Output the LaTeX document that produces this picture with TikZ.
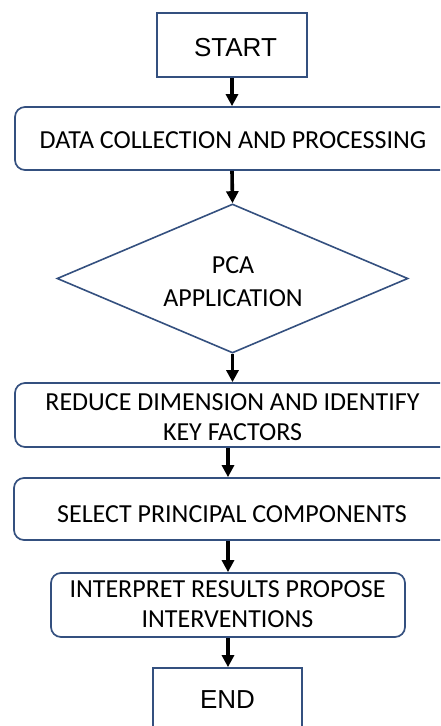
\documentclass[tikz,border=0pt]{standalone}
\usepackage{fontspec}
\setmainfont{Carlito}
\newfontfamily\arialf{Liberation Sans}
\usetikzlibrary{shapes.geometric,arrows.meta}
\definecolor{edgeblue}{HTML}{34507F}
\begin{document}
\begin{tikzpicture}[x=1pt,y=-1pt,
  box/.style={draw=edgeblue, line width=1.7pt, inner sep=0pt, fill=white},
  rbox/.style={box, rounded corners=10pt},
  dia/.style={draw=edgeblue, line width=1.6pt, diamond, inner sep=0pt, fill=white},
  lbl/.style={inner sep=0pt, font=\fontsize{26}{30}\selectfont, align=center},
  albl/.style={inner sep=0pt, font=\arialf\fontsize{26}{30}\selectfont},
  flow/.style={line width=3.6pt, -{Triangle[width=12pt,length=12pt]}}]
\useasboundingbox (0,0) rectangle (440,726);
\clip (0,0) rectangle (440,726);
% boxes
\node[box, minimum width=150pt, minimum height=64pt] (start) at (232,45) {};
\node[rbox, minimum width=450pt, minimum height=63pt] (data) at (240,138.5) {};
\node[dia, minimum width=351pt, minimum height=149pt] (pca) at (232.5,278.5) {};
\node[rbox, minimum width=450pt, minimum height=64pt] (reduce) at (240,415) {};
\node[rbox, minimum width=450pt, minimum height=62pt] (select) at (239,509) {};
\node[rbox, minimum width=354pt, minimum height=64pt] (interp) at (228,605) {};
\node[box, minimum width=149pt, minimum height=100pt] (end) at (227.5,718) {};
% texts
\node[albl, anchor=base] (startt) at (235.5,56) {START};
\node[lbl, anchor=base] (datat) at (233,148) {DATA COLLECTION AND PROCESSING};
\node[lbl, font=\fontsize{26}{33}\selectfont] (pcat) at (233,281.5) {PCA\\APPLICATION};
\node[lbl] (reducet) at (232.5,417.5) {REDUCE DIMENSION AND IDENTIFY\\KEY FACTORS};
\node[lbl, anchor=base] (selectt) at (232,522) {SELECT PRINCIPAL COMPONENTS};
\node[lbl] (interpt) at (227.5,604) {INTERPRET RESULTS PROPOSE\\INTERVENTIONS};
\node[albl, anchor=base] (endt) at (227.5,708) {END};
% connectors
\draw[flow] (start.south) -- (start.south |- data.north);
\draw[flow] (data.south -| start.south) -- (pca.north);
\draw[flow] (pca.south) -- (pca.south |- reduce.north);
\draw[flow] (reduce.south -| interp.north) -- (interp.north |- select.north);
\draw[flow] (select.south -| interp.north) -- (interp.north);
\draw[flow] (interp.south) -- (interp.south |- end.north);
\end{tikzpicture}
\end{document}
